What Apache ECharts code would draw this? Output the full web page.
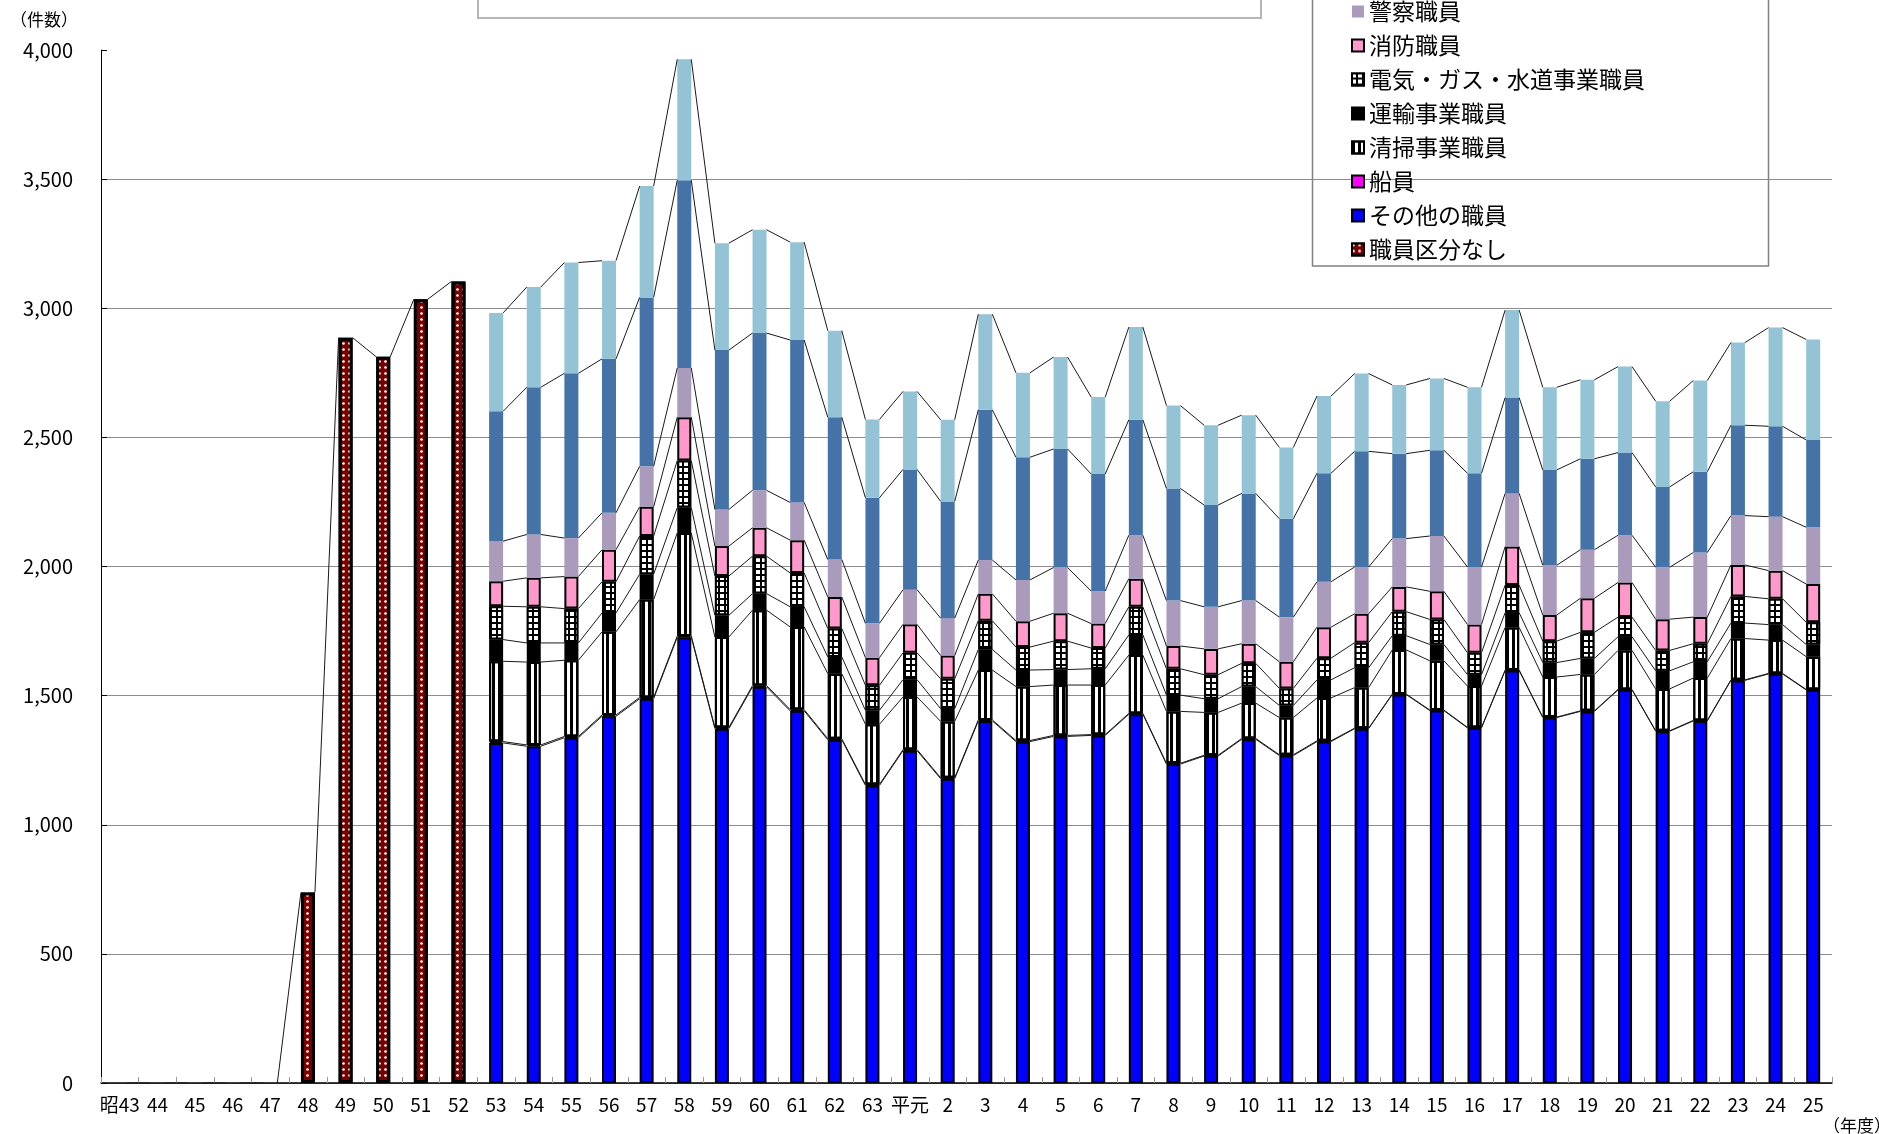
<!DOCTYPE html>
<html><head><meta charset="utf-8">
<script src="https://cdn.jsdelivr.net/npm/echarts@6/dist/echarts.min.js"></script>
<style>html,body{margin:0;padding:0;background:#fff}#c{width:1879px;height:1134px}</style>
</head><body><div id="c"></div>
<script>
const N = null;
const categories = ['昭43','44','45','46','47','48','49','50','51','52','53','54','55','56','57','58','59','60','61','62','63',
  '平元','2','3','4','5','6','7','8','9','10','11','12','13','14','15','16','17','18','19','20','21','22','23','24','25'];
const yTicks = [0,500,1000,1500,2000,2500,3000,3500,4000];

// 職員区分なし (昭43-52), then no data
const noClass = [0,0,0,0,0,738,2886,2812,3035,3104, N,N,N,N,N,N,N,N,N,N,N,N,N,N,N,N,N,N,N,N,N,N,N,N,N,N,N,N,N,N,N,N,N,N,N,N];
const other = [N,N,N,N,N,N,N,N,N,N, 1317,1304,1337,1420,1488,1726,1372,1534,1441,1329,1152,1287,1178,1402,1322,1342,1346,1428,1235,1266,1331,1268,1322,1372,1504,1442,1375,1597,1415,1439,1522,1362,1402,1559,1584,1522];
const seamen = [N,N,N,N,N,N,N,N,N,N, 5,5,5,5,5,5,5,5,5,4,4,4,4,4,4,4,3,3,3,3,3,3,3,2,2,2,2,2,2,2,2,2,2,2,2,2];
const cleaning = [N,N,N,N,N,N,N,N,N,N, 311,321,295,322,379,399,350,292,320,252,233,204,218,193,209,195,192,226,201,166,137,144,166,157,171,191,160,165,155,141,151,162,164,160,129,127];
const transport = [N,N,N,N,N,N,N,N,N,N, 84,74,67,73,98,98,84,64,78,65,54,67,49,80,64,60,63,78,63,53,64,47,70,77,55,63,44,57,56,62,53,70,63,60,60,47];
const utility = [N,N,N,N,N,N,N,N,N,N, 129,140,133,121,148,182,152,145,131,110,97,104,116,111,89,110,80,109,102,93,90,66,84,97,93,97,85,107,83,101,76,79,70,103,100,86];
const fire = [N,N,N,N,N,N,N,N,N,N, 97,112,124,124,113,168,116,110,127,122,107,110,90,104,100,108,95,109,88,100,76,103,120,112,96,109,109,149,101,132,134,121,103,122,109,148];
const police = [N,N,N,N,N,N,N,N,N,N, 155,168,149,143,157,191,142,145,146,145,133,134,145,131,160,177,126,168,176,163,167,173,176,181,187,214,223,206,193,188,183,201,250,191,209,220];
const eduOther = [N,N,N,N,N,N,N,N,N,N, 503,570,638,596,654,727,617,609,629,551,486,466,452,582,475,459,453,447,434,394,415,381,420,448,329,332,363,371,369,352,320,311,313,350,350,338];
const eduCompulsory = [N,N,N,N,N,N,N,N,N,N, 381,388,429,380,431,468,414,400,379,335,303,302,316,370,327,356,298,359,321,309,303,276,299,301,266,278,333,339,320,306,333,332,353,320,382,389];

const seriesNames = ['職員区分なし','その他の職員','船員','清掃事業職員','運輸事業職員','電気・ガス・水道事業職員','消防職員','警察職員','義務教育学校職員以外の教育職員','義務教育学校職員'];
const stackData = [noClass, other, seamen, cleaning, transport, utility, fire, police, eduOther, eduCompulsory];

const FONT = "'Noto Sans CJK JP', sans-serif";
const BAR_W = 14;
const blackBorder = {borderColor:'#000', borderWidth:2};

const styles = [
  {color:'#7a0000', borderColor:'#000', borderWidth:3, decal:{symbol:'circle', symbolSize:0.9, color:'#ffffff', dashArrayX:[3,3], dashArrayY:[3,3]}},
  Object.assign({color:'#0000ff'}, blackBorder),
  Object.assign({color:'#ff00ff'}, blackBorder),
  Object.assign({color:'#ffffff', decal:{symbol:'rect', symbolSize:1, color:'#000', dashArrayX:[3,3], dashArrayY:[1,0]}}, blackBorder),
  Object.assign({color:'#000000'}, blackBorder),
  Object.assign({color:'#000000', decal:{symbol:'rect', symbolSize:1, color:'#ffffff', dashArrayX:[4,2], dashArrayY:[4,2]}}, blackBorder),
  Object.assign({color:'#ff99cc'}, blackBorder),
  {color:'#aa9bbd'},
  {color:'#4573a7'},
  {color:'#93c3d5'}
];

function cum(s, i) {
  let t = 0;
  for (let k = 0; k <= s; k++) { const v = stackData[k][i]; if (v != null) t += v; }
  return t;
}

// zero-height bars are not drawn (they would show as a border mark on the axis)
const barSeries = seriesNames.map((name, s) => ({
  name: name, type: 'bar', stack: 'total', barWidth: BAR_W,
  data: stackData[s].map(v => (v === 0 ? null : v)), itemStyle: styles[s], silent: true
}));

const lineSeries = {
  type: 'custom', silent: true, z: 3,
  data: categories.slice(0, -1).map((c, i) => [i]),
  encode: {x: 0},
  renderItem: function (params, api) {
    const i = api.value(0);
    const half = BAR_W / 2;
    const children = [];
    for (let s = 0; s < stackData.length; s++) {
      const a = stackData[s][i], b = stackData[s][i + 1];
      if (a == null || b == null) continue;
      const p1 = api.coord([i, cum(s, i)]);
      const p2 = api.coord([i + 1, cum(s, i + 1)]);
      children.push({type: 'line', shape: {x1: p1[0] + half, y1: p1[1], x2: p2[0] - half, y2: p2[1]},
        style: {stroke: '#1a1a1a', lineWidth: 1}});
    }
    return {type: 'group', children: children};
  }
};

const chart = echarts.init(document.getElementById('c'), null, {renderer: 'canvas'});
chart.setOption({
  animation: false,
  backgroundColor: '#ffffff',
  grid: {left: 101, right: 47, top: 50, bottom: 51, containLabel: false, outerBoundsMode: 'none'},
  xAxis: {
    type: 'category', data: categories,
    axisLine: {lineStyle: {color: '#000', width: 1.5}},
    axisTick: {show: true, inside: true, length: 6, lineStyle: {color: '#999'}},
    axisLabel: {interval: 0, fontSize: 19, color: '#000', margin: 12, fontFamily: "'Liberation Sans Narrow', 'Noto Sans CJK JP', sans-serif"},
    splitLine: {show: false}
  },
  yAxis: {
    type: 'value', min: yTicks[0], max: yTicks[yTicks.length - 1], interval: yTicks[1] - yTicks[0],
    axisLine: {show: true, lineStyle: {color: '#000', width: 1}},
    axisTick: {show: true, inside: true, length: 6, lineStyle: {color: '#000'}},
    axisLabel: {fontSize: 20, color: '#000', margin: 28, fontFamily: FONT,
      formatter: v => v.toLocaleString('en-US')},
    splitLine: {show: true, showMaxLine: false, lineStyle: {color: '#8c8c8c', width: 1}}
  },
  legend: {
    orient: 'vertical', left: 1351, top: -68, padding: 0, itemGap: 11,
    itemWidth: 12, itemHeight: 12, icon: 'rect', selectedMode: false,
    textStyle: {fontSize: 23, color: '#000', fontFamily: FONT, lineHeight: 23},
    data: seriesNames.slice().reverse()
  },
  graphic: [
    {type: 'rect', shape: {x: 478, y: -40, width: 783, height: 58}, style: {fill: 'none', stroke: '#b5b5b5', lineWidth: 2}, silent: true},
    {type: 'rect', shape: {x: 1312.5, y: -40, width: 456, height: 306}, style: {fill: 'none', stroke: '#808080', lineWidth: 1.5}, silent: true},
    {type: 'text', x: 10, y: 20, style: {text: '（件数）', fontSize: 17, fill: '#000', fontFamily: FONT, verticalAlign: 'middle'}, silent: true},
    {type: 'text', x: 1823, y: 1134, style: {text: '（年度）', fontSize: 17, fill: '#000', fontFamily: FONT, verticalAlign: 'bottom'}, silent: true}
  ],
  series: barSeries.concat([lineSeries])
});
</script>
</body></html>
